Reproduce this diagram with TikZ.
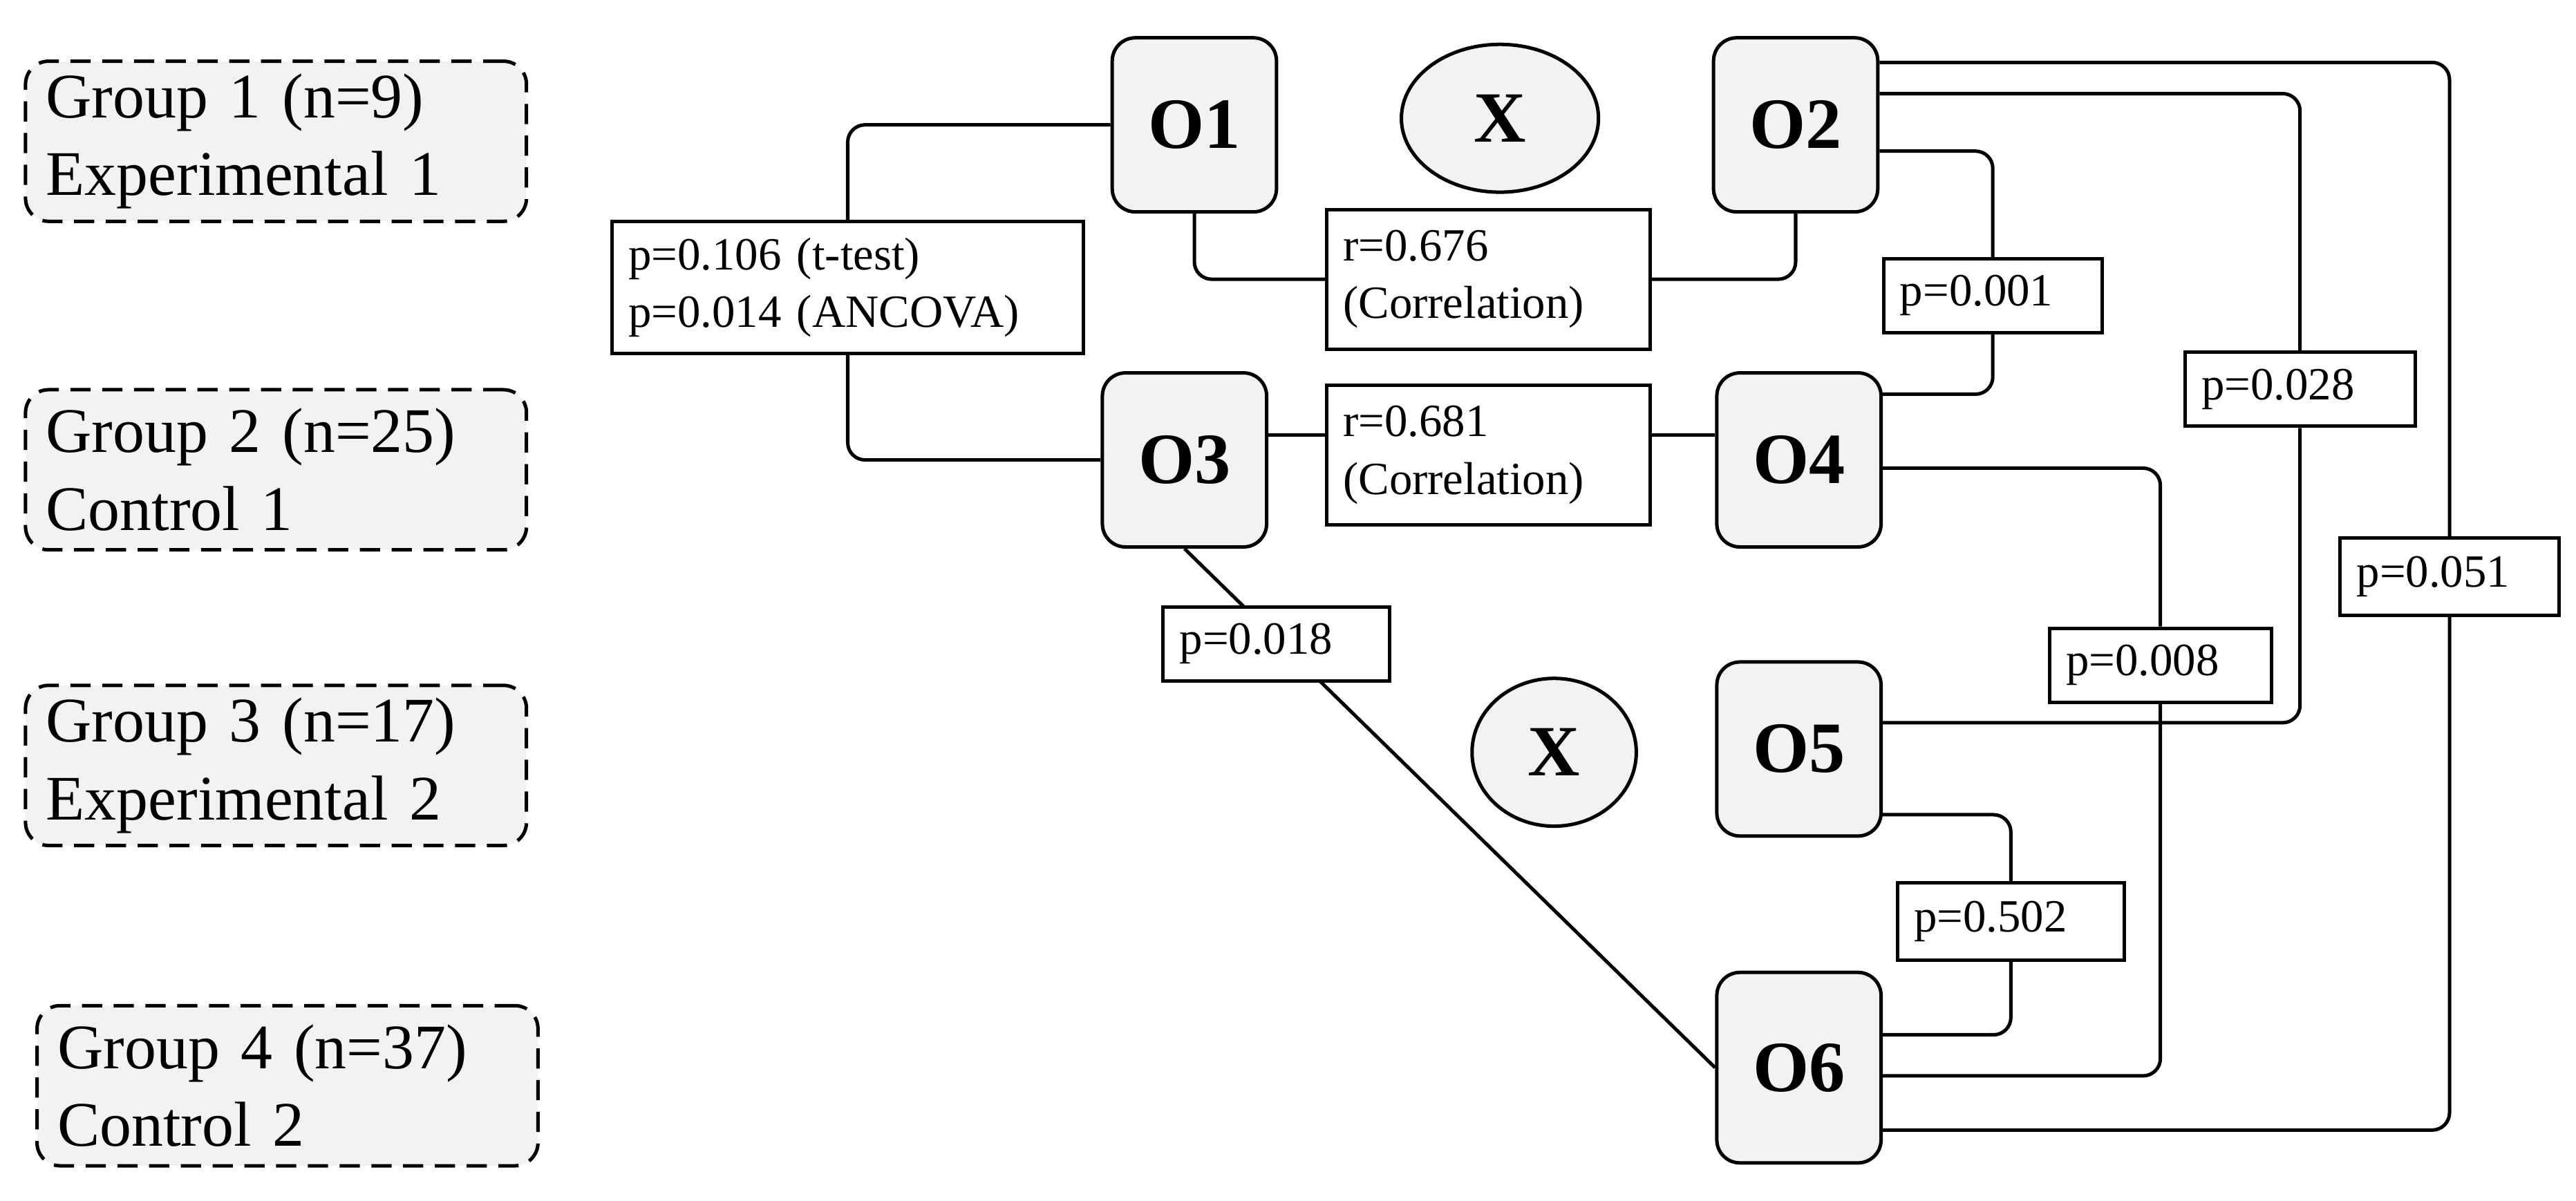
\documentclass[tikz,border=0pt]{standalone}
\usepackage{fontspec}
\setmainfont{Liberation Serif}
\usetikzlibrary{shapes.geometric,calc}
\begin{document}
\begin{tikzpicture}[x=0.02cm,y=-0.02cm]
\tikzset{grp/.style={draw,dash pattern=on 7pt off 4pt,line width=1.2pt,rounded corners=8pt,fill=gray!10,align=left,font=\fontsize{22}{27}\selectfont,minimum width=6.1cm,minimum height=1.95cm,text width=5.6cm},
obs/.style={draw,line width=1.2pt,rounded corners=8pt,fill=gray!10,font=\fontsize{25}{30}\selectfont\bfseries,minimum width=2cm,minimum height=2.12cm},
res/.style={draw,line width=1.2pt,fill=white,align=left,font=\fontsize{16}{20}\selectfont,inner xsep=0.2cm,text width=#1},
lnk/.style={line width=1.2pt,rounded corners=6pt}}
\useasboundingbox (0,0) rectangle (1568,731);
% groups
\node[grp](g1) at (168,86){Group 1 (n=9)\\Experimental 1};
\node[grp](g2) at (168,286){Group 2 (n=25)\\Control 1};
\node[grp](g3) at (168,466){Group 3 (n=17)\\Experimental 2};
\node[grp](g4) at (175,661){Group 4 (n=37)\\Control 2};
% observations
\node[obs](o1) at (727,76){O1};
\node[obs](o2) at (1093,76){O2};
\node[obs](o3) at (721,280){O3};
\node[obs](o4) at (1095,280){O4};
\node[obs](o5) at (1095,456){O5};
\node[obs,minimum height=2.32cm](o6) at (1095,650){O6};
\node[draw,ellipse,line width=1.2pt,fill=gray!10,font=\fontsize{25}{30}\selectfont\bfseries,minimum width=2.4cm,minimum height=1.8cm](x1) at (913,72){X};
\node[draw,ellipse,line width=1.2pt,fill=gray!10,font=\fontsize{25}{30}\selectfont\bfseries,minimum width=2cm,minimum height=1.8cm](x2) at (946,458){X};
\draw[lnk] (o3.south) -- (o6.west);
% results
\node[res=5.34cm,minimum height=1.6cm](tt) at (516,175){p=0.106 (t-test)\\p=0.014 (ANCOVA)};
\node[res=3.54cm,minimum height=1.7cm](r1) at (906,170){r=0.676\\(Correlation)};
\node[res=3.54cm,minimum height=1.7cm](r2) at (906,277){r=0.681\\(Correlation)};
\node[res=2.26cm,minimum height=0.9cm](pa) at (1213,180){p=0.001};
\node[res=2.4cm,minimum height=0.9cm](pb) at (1400,237){p=0.028};
\node[res=2.26cm,minimum height=0.94cm](pc) at (1491,351){p=0.051};
\node[res=2.3cm,minimum height=0.9cm](pd) at (1315,405){p=0.008};
\node[res=2.36cm,minimum height=0.9cm](pf) at (777,392){p=0.018};
\node[res=2.36cm,minimum height=0.94cm](pe) at (1224,561){p=0.502};
% links
\draw[lnk] (o1.west) -| (tt.north);
\draw[lnk] (tt.south) |- (o3.west);
\draw[lnk] (o1.south) |- (r1.west);
\draw[lnk] (r1.east) -| (o2.south);
\draw[lnk] ($(o3.east)+(0,-15)$) -- ($(r2.west)+(0,-12)$);
\draw[lnk] ($(r2.east)+(0,-12)$) -- ($(o4.west)+(0,-15)$);
\draw[lnk] ($(o2.east)+(0,16)$) -| (pa.north);
\draw[lnk] (pa.south) |- ($(o4.east)+(0,-40)$);
\draw[lnk] ($(o2.east)+(0,-19)$) -| (pb.north);
\draw[lnk] (pb.south) |- ($(o5.east)+(0,-16)$);
\draw[lnk] ($(o2.east)+(0,-38)$) -| (pc.north);
\draw[lnk] (pc.south) |- ($(o6.east)+(0,38)$);
\draw[lnk] ($(o4.east)+(0,5)$) -| (pd.north);
\draw[lnk] (pd.south) |- ($(o6.east)+(0,5)$);
\draw[lnk] ($(o5.east)+(0,40)$) -| (pe.north);
\draw[lnk] (pe.south) |- ($(o6.east)+(0,-20)$);
\end{tikzpicture}
\end{document}
